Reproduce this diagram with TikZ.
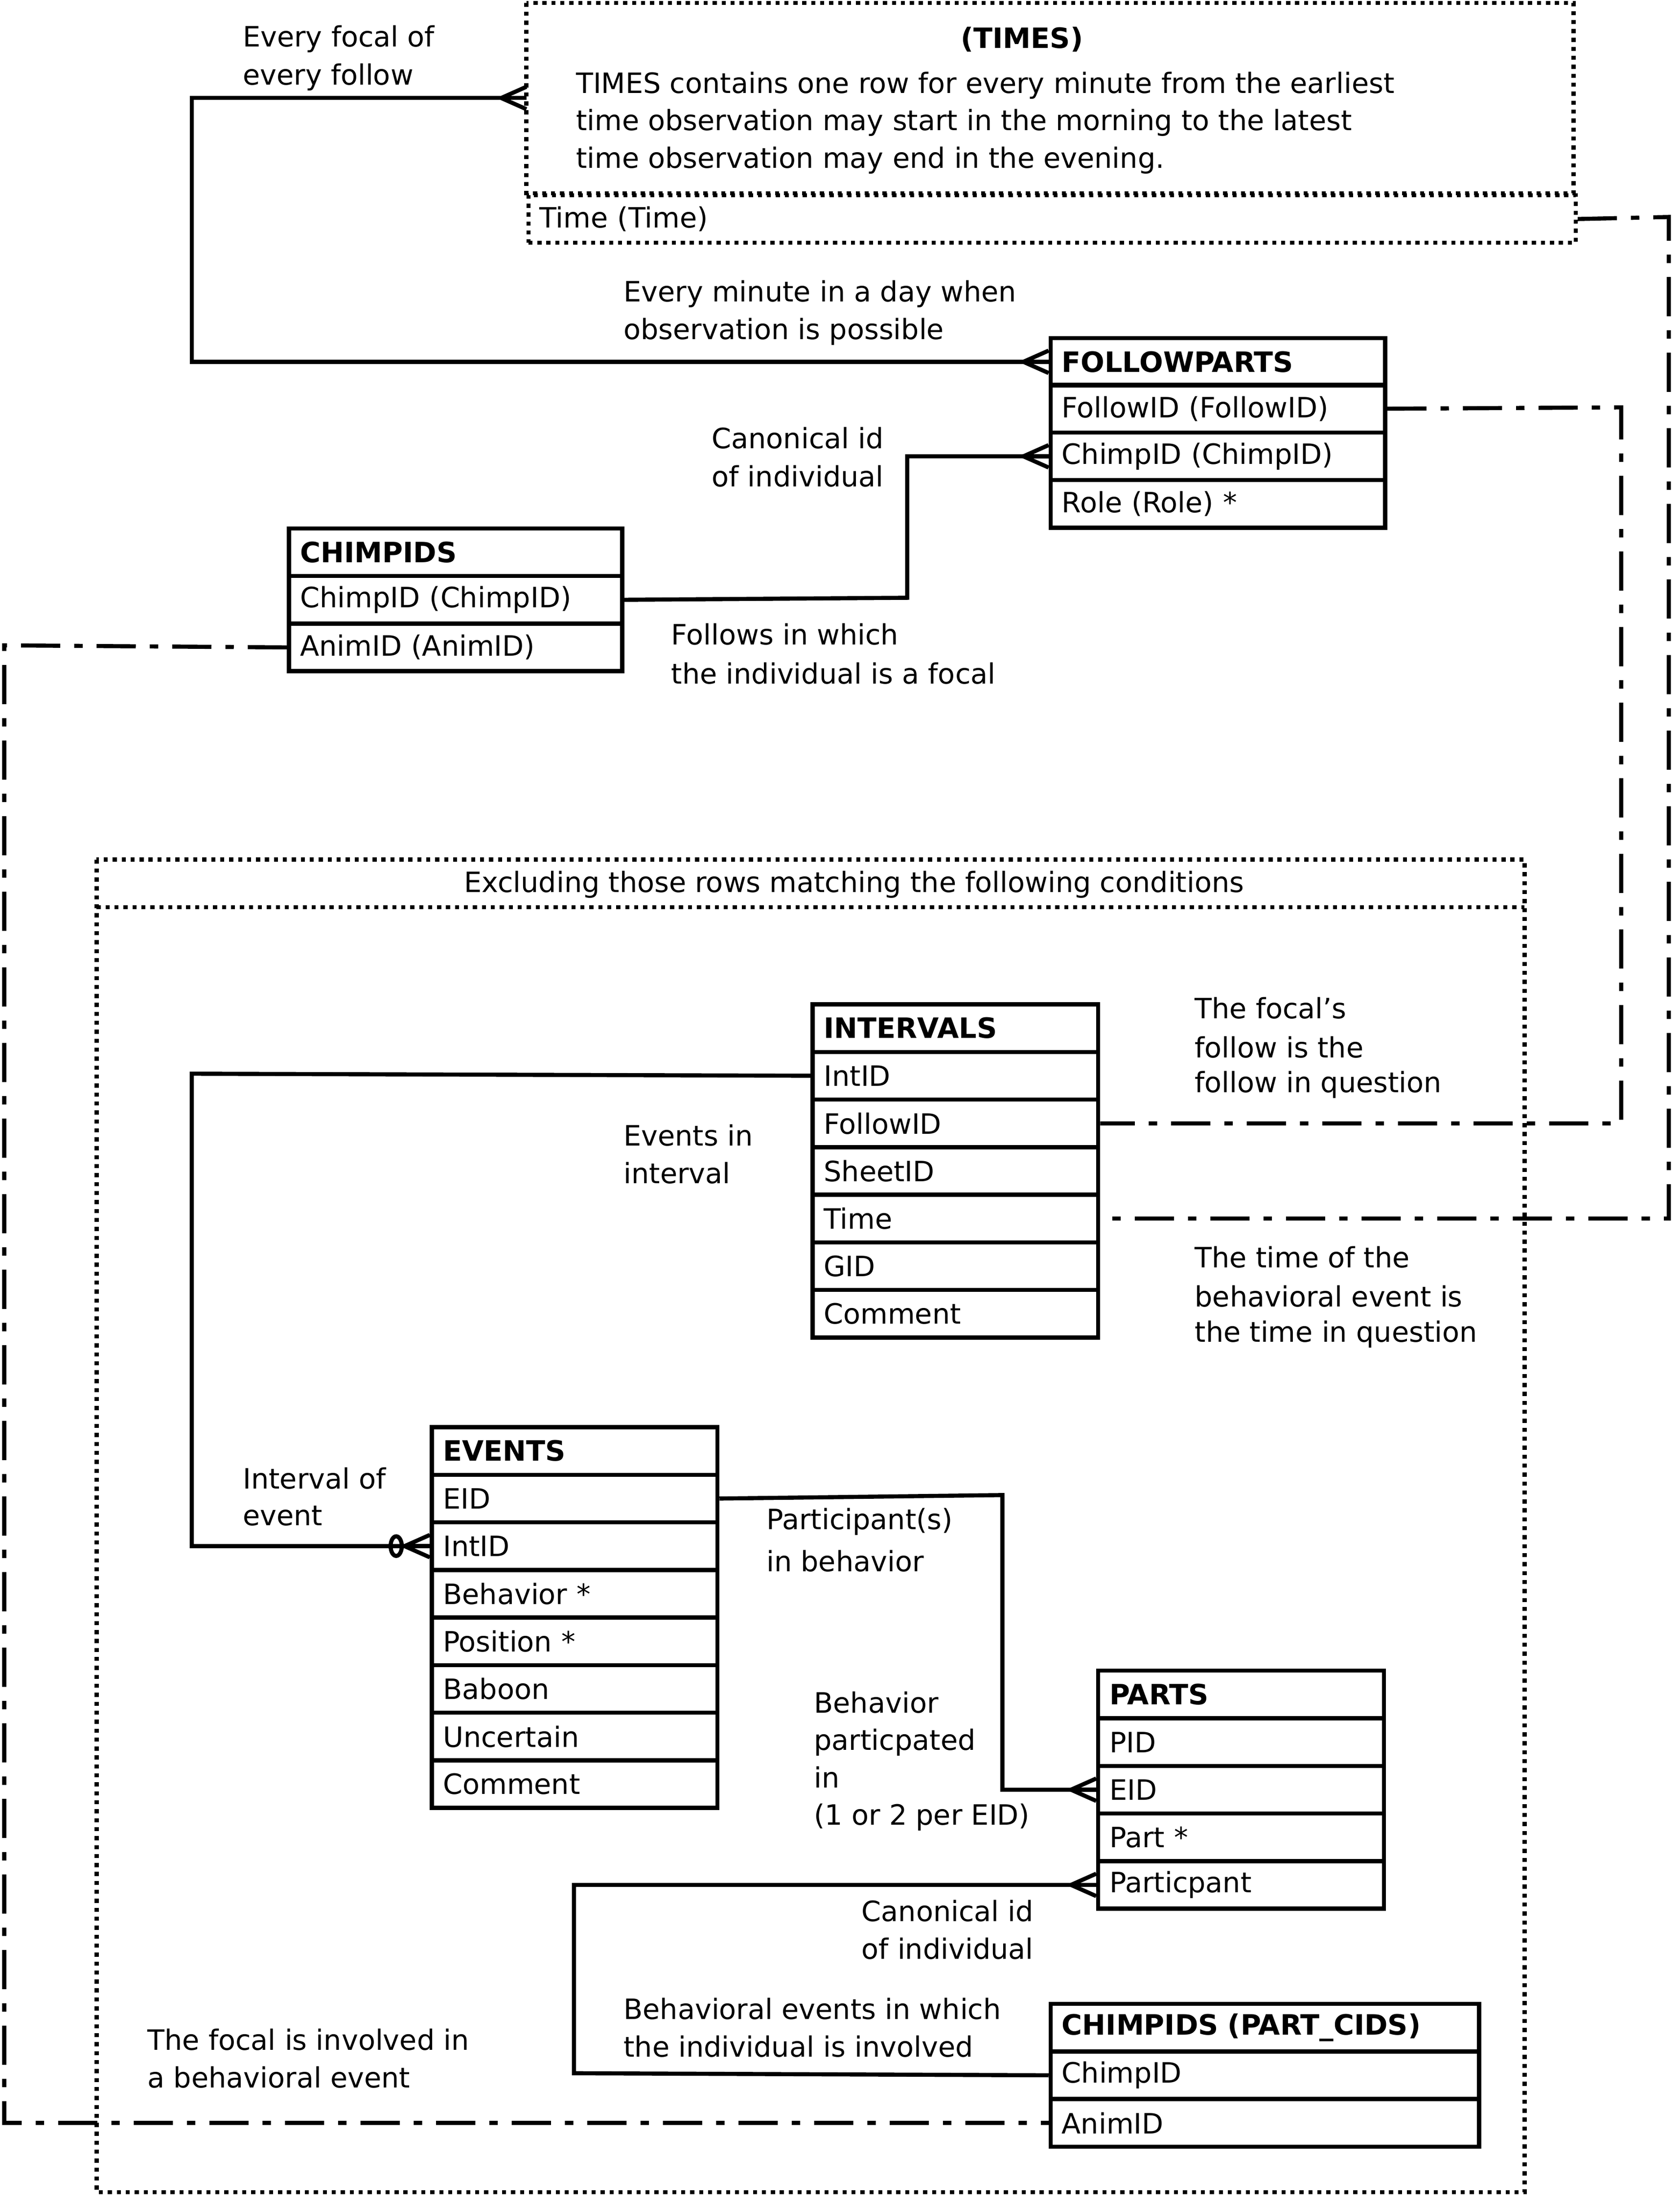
\documentclass[tikz,border=0pt]{standalone}
\usepackage{fontspec}
\setmainfont{DejaVu Sans}
\begin{document}
\begin{tikzpicture}[x=0.75pt,y=-0.75pt,line width=2.2pt,
  every node/.style={font=\fontsize{15}{20}\selectfont},
  row/.style={draw,anchor=north west,inner xsep=6pt,inner ysep=0pt,text width=#1*0.75pt-12pt,minimum height=25.5pt,align=left},
  hdr/.style={row=#1,font=\fontsize{15}{20}\selectfont\bfseries},
  lbl/.style={anchor=west,align=left,inner sep=0pt},
  dd/.style={dash pattern=on 21pt off 7.5pt on 4.5pt off 7.5pt},
  dots/.style={dash pattern=on 2.2pt off 2.6pt},
  crow/.pic={\draw[line width=2.2pt] (0,-8) -- (-18,0) -- (0,8); \draw (0,0)--(-18,0);},
  zcrow/.pic={\draw[line width=2.2pt] (0,-8) -- (-18,0) -- (0,8); \draw (0,0)--(-18,0); \draw (-24,0) ellipse (4 and 7);}]
\useasboundingbox (0,0) rectangle (1200,1573);
\fill[white] (0,0) rectangle (1200,1573);
% TIMES
\draw[dots] (376,2) rectangle (1124,138);
\node[dots,row=748] (tt) at (376,138) {Time (Time)};
\node (tdh) at (730,28) {\bfseries (TIMES)};
\coordinate (tl) at (376,70);
\node[lbl,anchor=north west,align=left] (td) at (410,50) {TIMES contains one row for every minute from the earliest\\time observation may start in the morning to the latest\\time observation may end in the evening.};
% FOLLOWPARTS
\node[hdr=239] (fp) at (749,240) {FOLLOWPARTS};
\node[row=239] (fpf) at (749,273.5) {FollowID (FollowID)};
\node[row=239] (fpc) at (749,307.5) {ChimpID (ChimpID)};
\node[row=239] (fpr) at (749,341.5) {Role (Role) *};
% CHIMPIDS
\node[hdr=238] (ci) at (205,376) {CHIMPIDS};
\node[row=238] (cic) at (205,410) {ChimpID (ChimpID)};
\node[row=238] (cia) at (205,444) {AnimID (AnimID)};
% container
\draw[dots] (69,614) rectangle (1089,1566);
\draw[dots] (69,648) -- (1089,648);
\node (ex) at (610,632) {Excluding those rows matching the following conditions};
% INTERVALS
\node[hdr=204] (iv) at (579,716) {INTERVALS};
\node[row=204] (ivi) at (579,750) {IntID};
\node[row=204] (ivf) at (579,784) {FollowID};
\node[row=204] (ivs) at (579,818) {SheetID};
\node[row=204] (ivt) at (579,852) {Time};
\node[row=204] (ivg) at (579,886) {GID};
\node[row=204] (ivc) at (579,920) {Comment};
% EVENTS
\node[hdr=204] (ev) at (307,1018) {EVENTS};
\node[row=204] (eve) at (307,1052) {EID};
\node[row=204] (evi) at (307,1086) {IntID};
\node[row=204] (evb) at (307,1120) {Behavior *};
\node[row=204] (evp) at (307,1154) {Position *};
\node[row=204] (evba) at (307,1188) {Baboon};
\node[row=204] (evu) at (307,1222) {Uncertain};
\node[row=204] (evc) at (307,1256) {Comment};
% PARTS
\node[hdr=204] (pa) at (783,1192) {PARTS};
\node[row=204] (pap) at (783,1226) {PID};
\node[row=204] (pae) at (783,1260) {EID};
\node[row=204] (pat) at (783,1294) {Part *};
\node[row=204] (pac) at (783,1328) {Particpant};
% PART_CIDS
\node[hdr=306] (pc) at (749,1430) {CHIMPIDS (PART\_CIDS)};
\node[row=306] (pcc) at (749,1464) {ChimpID};
\node[row=306] (pca) at (749,1498) {AnimID};
% connectors
\draw (tl) -- (137,70) |- (fp.west);
\pic at (tl) {crow}; \pic at (fp.west) {crow};
\node[lbl] at (172,28) {Every focal of}; \node[lbl] at (172,55) {every follow};
\node[lbl] at (444,210) {Every minute in a day when}; \node[lbl] at (444,237) {observation is possible};
\draw (cic.east) -- (648,427) |- (fpc.west); \pic at (fpc.west) {crow};
\node[lbl] at (507,313) {Canonical id}; \node[lbl] at (507,340) {of individual};
\node[lbl] at (478,453) {Follows in which}; \node[lbl] at (478,481) {the individual is a focal};
\draw[dd] (tt.east) -- (1192,155) |- (ivt.east);
\node[lbl] at (852,898) {The time of the}; \node[lbl] at (852,926) {behavioral event is}; \node[lbl] at (852,953) {the time in question};
\draw[dd] (fpf.east) -- (1158,291) |- (ivf.east);
\node[lbl] at (852,720) {The focal's}; \node[lbl] at (852,748) {follow is the}; \node[lbl] at (852,775) {follow in question};
\draw[dd] (cia.west) -- (3,461) |- (pca.west);
\node[lbl] at (104,1457) {The focal is involved in}; \node[lbl] at (104,1484) {a behavioral event};
\draw (ivi.west) -- (137,767) |- (evi.west); \pic at (evi.west) {zcrow};
\node[lbl] at (444,811) {Events in}; \node[lbl] at (444,838) {interval};
\node[lbl] at (172,1056) {Interval of}; \node[lbl] at (172,1083) {event};
\draw (eve.east) -- (716,1068) |- (pae.west); \pic at (pae.west) {crow};
\node[lbl] at (546,1087) {Participant(s)}; \node[lbl] at (546,1115) {in behavior};
\node[lbl,anchor=north west] at (580,1207) {Behavior\\particpated\\in\\(1 or 2 per EID)};
\draw (pcc.west) -- (410,1481) |- (pac.west); \pic at (pac.west) {crow};
\node[lbl] at (614,1365) {Canonical id}; \node[lbl] at (614,1392) {of individual};
\node[lbl] at (444,1435) {Behavioral events in which}; \node[lbl] at (444,1462) {the individual is involved};
\end{tikzpicture}
\end{document}
